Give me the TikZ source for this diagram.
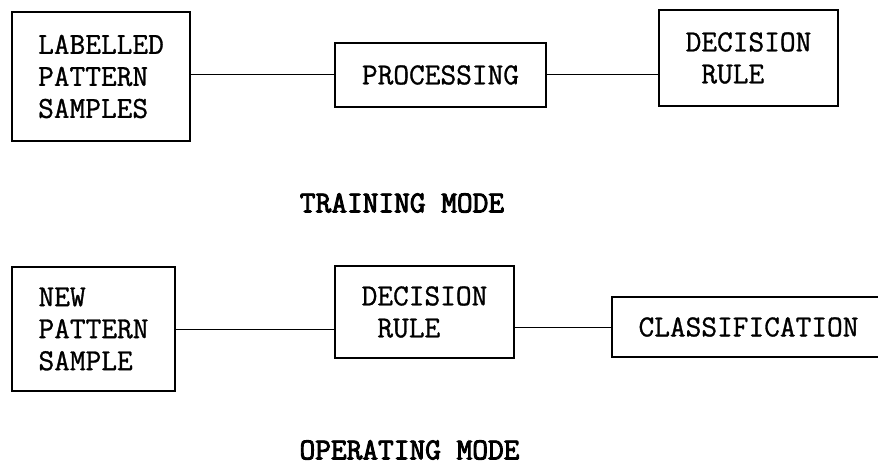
\documentclass[tikz,border=0pt]{standalone}
\usepackage{fontspec}
\setmonofont{Latin Modern Mono}
\newfontfamily\blockfont[FakeBold=1]{Latin Modern Mono}
\newfontfamily\modefont[FakeBold=3]{Latin Modern Mono}
\usepackage{tikz}

\tikzset{
	block/.style={draw,line width=1.3pt,inner sep=0pt,font=\blockfont\fontsize{30.5}{32}\selectfont},
	link/.style={line width=1pt},
	modelabel/.style={inner sep=0pt,font=\modefont\fontsize{30.5}{32}\selectfont}
}

\begin{document}
\begin{tikzpicture}[x=1pt,y=1pt,yscale=-1,xscale=1]
			\useasboundingbox (0,0) rectangle (878,462);
			
			% training mode
			\node[block,minimum width=178,minimum height=129,align=left] (labelled) at (101,76.5) {LABELLED\\PATTERN\\SAMPLES};
			\node[block,minimum width=211,minimum height=64] (processing) at (440.5,75) {PROCESSING};
			\node[block,minimum width=179,minimum height=96,align=left] (rule) at (748.5,58) {DECISION\\\phantom{D}RULE};
			\draw[link] (labelled.east |- processing.west) -- (processing.west);
			\draw[link] (processing.east) -- (processing.east -| rule.west);
			\node[modelabel] (training) at (402,203) {TRAINING MODE};
			
			% operating mode
			\node[block,minimum width=163,minimum height=124,align=left] (newsample) at (93.5,329) {NEW\phantom{TERN}\\PATTERN\\SAMPLE};
			\node[block,minimum width=179,minimum height=92,align=left] (decision) at (424.5,312) {DECISION\\\phantom{D}RULE};
			\node[block,minimum width=273,minimum height=60] (classification) at (748.5,327) {CLASSIFICATION};
			\draw[link] (newsample.east) -- (newsample.east -| decision.west);
			\draw[link] (decision.east |- classification.west) -- (classification.west);
			\node[modelabel] (operating) at (409.5,450) {OPERATING MODE};
\end{tikzpicture}
\end{document}
